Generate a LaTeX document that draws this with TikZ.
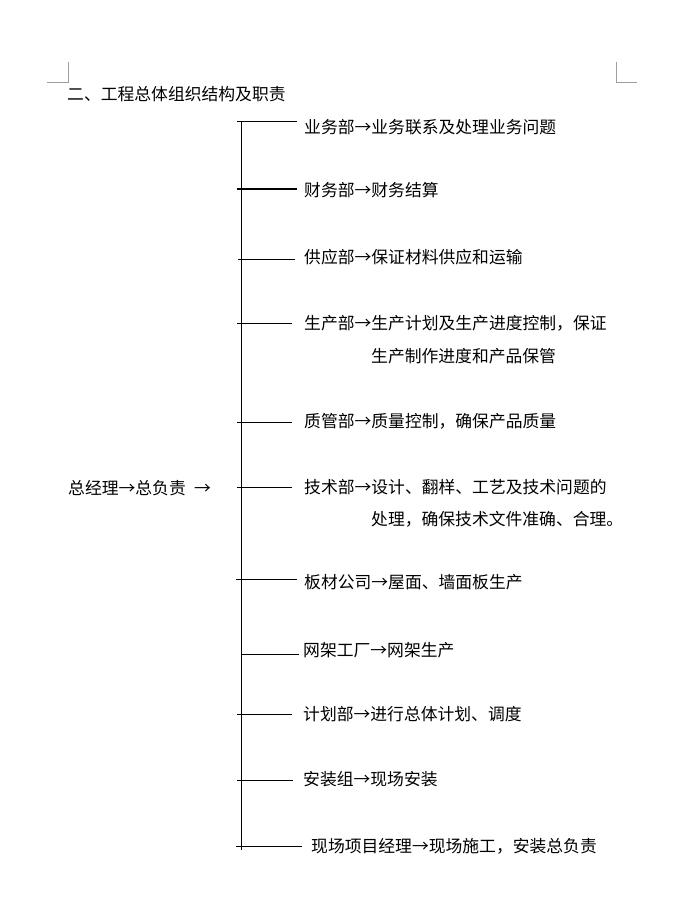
\documentclass[tikz,border=0pt]{standalone}
\usepackage{fontspec}
\setmainfont{Noto Sans CJK SC}
\newcommand{\fwarrow}{\makebox[1em]{→}}
\begin{document}
\begin{tikzpicture}[x=1pt,y=-1pt,
  txt/.style={anchor=west,inner sep=0pt,font=\fontsize{16.8}{18}\selectfont},
  trunk/.style={line width=1pt},
  branch/.style={line width=1pt},
  crop/.style={draw=black!38,line width=1pt}]
\useasboundingbox (0,0) rectangle (683,912);
% corner marks
\draw[crop] (47,83) -- (68,83) -- (68,62);
\draw[crop] (637,83) -- (616,83) -- (616,62);
% title
\node[txt] (title) at (67,94) {二、工程总体组织结构及职责};
% left
\node[txt] (gm) at (68,488) {总经理\fwarrow 总负责\hspace{0.5em}\fwarrow};
% trunk
\coordinate (ttop) at (241.5,121);
\coordinate (tbot) at (241.5,850);
\draw[trunk] (ttop) -- (tbot);
% texts
\node[txt] (t1) at (304,127) {业务部\fwarrow 业务联系及处理业务问题};
\node[txt] (t2) at (304,190) {财务部\fwarrow 财务结算};
\node[txt] (t3) at (304,257) {供应部\fwarrow 保证材料供应和运输};
\node[txt] (t4) at (304,323) {生产部\fwarrow 生产计划及生产进度控制，保证};
\node[txt] (t4b) at (371,356) {生产制作进度和产品保管};
\node[txt] (t5) at (304,421) {质管部\fwarrow 质量控制，确保产品质量};
\node[txt] (t6) at (304,487) {技术部\fwarrow 设计、翻样、工艺及技术问题的};
\node[txt] (t6b) at (371,519) {处理，确保技术文件准确、合理。};
\node[txt] (t7) at (304,582) {板材公司\fwarrow 屋面、墙面板生产};
\node[txt] (t8) at (303,650) {网架工厂\fwarrow 网架生产};
\node[txt] (t9) at (303,714) {计划部\fwarrow 进行总体计划、调度};
\node[txt] (t10) at (303,779) {安装组\fwarrow 现场安装};
\node[txt] (t11) at (311,846) {现场项目经理\fwarrow 现场施工，安装总负责};
% branches
\foreach \n/\y/\a/\b in {1/122/237/297,2/189/237/297,3/259/238/295,4/323/237/292,5/422/237/292,6/487/237/292,7/579/236/297,8/654/241/299,9/714/237/292,10/780/237/293,11/846/236/302}{
  \coordinate (s\n) at (\a,\y);
  \coordinate (e\n) at (\b,\y);
  \draw[branch] (s\n) -- (e\n);
}
\end{tikzpicture}
\end{document}
